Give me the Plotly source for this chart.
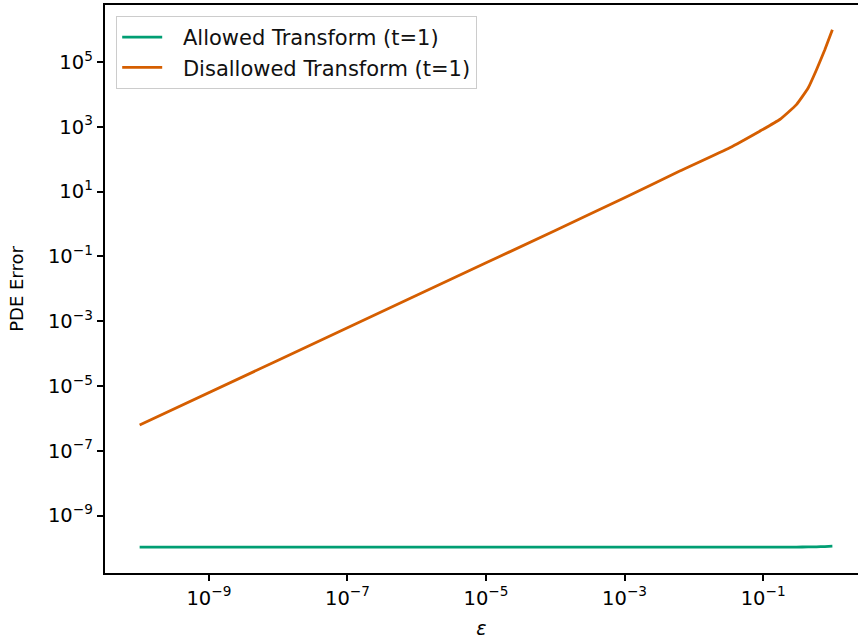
import plotly.graph_objects as go

# epsilon grid
eps = [1e-10, 1e-8, 1e-6, 1e-4, 1e-3, 0.00627, 0.033, 0.0895, 0.174,
       0.303, 0.447, 0.59, 0.778, 1.0]

allowed_err = [1.06e-10, 1.06e-10, 1.06e-10, 1.06e-10, 1.06e-10, 1.06e-10,
               1.06e-10, 1.06e-10, 1.06e-10, 1.06e-10, 1.07e-10, 1.08e-10,
               1.10e-10, 1.13e-10]

disallowed_err = [6.2e-7, 6.2e-5, 6.3e-3, 0.63, 6.5, 43, 226, 733, 1680,
                  4850, 15800, 57900, 239000, 986000]

x_tick_vals = [1e-9, 1e-7, 1e-5, 1e-3, 1e-1]
x_tick_text = ["10<sup>−9</sup>", "10<sup>−7</sup>", "10<sup>−5</sup>",
               "10<sup>−3</sup>", "10<sup>−1</sup>"]
y_tick_vals = [1e-9, 1e-7, 1e-5, 1e-3, 1e-1, 1e1, 1e3, 1e5]
y_tick_text = ["10<sup>−9</sup>", "10<sup>−7</sup>", "10<sup>−5</sup>",
               "10<sup>−3</sup>", "10<sup>−1</sup>", "10<sup>1</sup>",
               "10<sup>3</sup>", "10<sup>5</sup>"]

FONT = "DejaVu Sans"
PAD = "\u2002\u2005"

fig = go.Figure()
fig.add_trace(go.Scatter(x=eps, y=allowed_err, mode="lines",
                         name=PAD + "Allowed Transform (t=1)",
                         line=dict(color="#009E73", width=2.8, shape="spline", smoothing=0.4)))
fig.add_trace(go.Scatter(x=eps, y=disallowed_err, mode="lines",
                         name=PAD + "Disallowed Transform (t=1)",
                         line=dict(color="#D55E00", width=2.8, shape="spline", smoothing=0.4)))

fig.update_layout(
    width=858, height=639,
    margin=dict(l=105, r=0, t=5, b=66),
    paper_bgcolor="white", plot_bgcolor="white",
    font=dict(family=FONT, size=19.5, color="black"),
    showlegend=True,
    legend=dict(x=0.0146, y=0.981, xanchor="left", yanchor="top",
                bgcolor="rgba(255,255,255,0.8)", bordercolor="#cccccc",
                borderwidth=1.2, font=dict(family=FONT, size=21, color="#111"),
                tracegroupgap=0, itemwidth=40),
)
fig.update_xaxes(type="log", range=[-10.5, 0.37],
                 tickvals=x_tick_vals, ticktext=x_tick_text,
                 ticks="outside", ticklen=6.5, tickwidth=1.5, tickcolor="black",
                 showline=True, linecolor="black", linewidth=1.5, mirror=True,
                 showgrid=False, zeroline=False,
                 title=dict(text="<i>ε</i>", font=dict(family=FONT, size=19), standoff=15))
fig.update_yaxes(type="log", range=[-10.775, 6.76],
                 tickvals=y_tick_vals, ticktext=y_tick_text,
                 ticks="outside", ticklen=6.5, tickwidth=1.5, tickcolor="black",
                 showline=True, linecolor="black", linewidth=1.5, mirror=False,
                 showgrid=False, zeroline=False,
                 title=dict(text="PDE Error", font=dict(family=FONT, size=18), standoff=20))

fig.write_html("out.html")
